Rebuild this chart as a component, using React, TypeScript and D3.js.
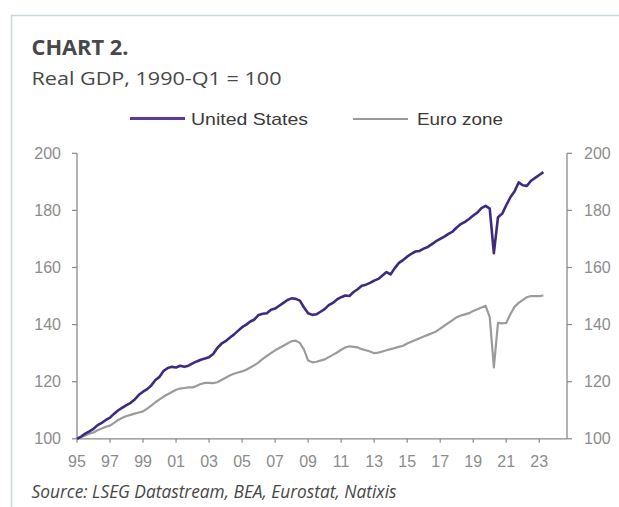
import React from "react";
import * as d3 from "d3";

const startYear = 1995;
// Quarterly real GDP index, 1995-Q1 = 100
const usValues = [
  100, 100.8, 101.8, 102.6,
  103.5, 104.8, 105.6, 106.6,
  107.4, 108.8, 110.0, 110.9,
  111.8, 112.6, 113.8, 115.4,
  116.5, 117.4, 118.7, 120.6,
  121.7, 123.8, 124.8, 125.2,
  125.0, 125.6, 125.2, 125.6,
  126.4, 127.1, 127.7, 128.1,
  128.6, 129.7, 131.8, 133.3,
  134.2, 135.4, 136.5, 137.8,
  139.1, 140.0, 141.1, 141.8,
  143.4, 143.8, 144.0, 145.2,
  145.6, 146.6, 147.6, 148.6,
  149.2, 149.0, 148.4, 146.0,
  144.0, 143.4, 143.6, 144.5,
  145.4, 146.8, 147.6, 148.8,
  149.6, 150.2, 150.0, 151.4,
  152.4, 153.6, 154.0, 154.6,
  155.4, 156.0, 157.2, 158.4,
  157.6, 159.8, 161.6, 162.6,
  163.8, 164.8, 165.6, 165.8,
  166.6, 167.2, 168.2, 169.2,
  170.0, 170.8, 171.8, 172.6,
  174.0, 175.2, 176.0, 177.0,
  178.2, 179.2, 180.8, 181.6,
  180.6, 165.0, 177.6, 178.8,
  181.8, 184.6, 186.6, 189.8,
  188.8, 188.6, 190.4, 191.4,
  192.4, 193.4,
];
const euroValues = [
  100, 100.6, 101.2, 101.8,
  102.2, 103.0, 103.6, 104.2,
  104.6, 105.6, 106.6, 107.4,
  108.0, 108.4, 108.8, 109.2,
  109.6, 110.6, 111.6, 112.8,
  113.8, 114.8, 115.6, 116.4,
  117.2, 117.6, 117.8, 118.0,
  118.0, 118.6, 119.2, 119.6,
  119.6, 119.5, 119.8, 120.6,
  121.4, 122.2, 122.8, 123.2,
  123.6, 124.2, 125.0, 125.8,
  126.8, 128.0, 129.0, 130.0,
  131.0, 131.8, 132.6, 133.4,
  134.2, 134.4, 133.6, 131.2,
  127.4, 126.8, 127.0, 127.4,
  127.8, 128.6, 129.4, 130.2,
  131.2, 132.0, 132.4, 132.2,
  132.0, 131.4, 131.0, 130.6,
  130.0, 130.2, 130.6, 131.0,
  131.4, 131.8, 132.2, 132.6,
  133.4, 134.0, 134.6, 135.2,
  135.8, 136.4, 137.0, 137.6,
  138.6, 139.6, 140.6, 141.6,
  142.6, 143.2, 143.6, 144.0,
  144.8, 145.4, 146.0, 146.6,
  142.6, 125.0, 140.6, 140.4,
  140.6, 143.6, 146.2, 147.6,
  148.6, 149.6, 150.0, 150.0,
  150.0, 150.2,
];
const xTickYears = [1995, 1997, 1999, 2001, 2003, 2005, 2007, 2009, 2011, 2013, 2015, 2017, 2019, 2021, 2023];
const yTicks = [100, 120, 140, 160, 180, 200];
const seriesNames = ["United States", "Euro zone"];

const W = 619;
const H = 507;
const plotLeft = 77;
const plotRight = 567;
const plotTop = 153.3;
const plotBottom = 438.8;

const US_COLOR = "#3f2a80";
const US_LEGEND = "#5e3a96";
const EU_COLOR = "#9b9b9b";
const AXIS = "#8a8a8a";
const LABEL = "#8c8c8c";

export default function App() {
  const x = d3.scaleLinear().domain([1995, 2024.68]).range([plotLeft, plotRight]);
  const y = d3.scaleLinear().domain([100, 200]).range([plotBottom, plotTop]);
  const toPts = (vals: number[]) => vals.map((v, i) => ({ t: startYear + i / 4, v }));
  const line = d3
    .line<{ t: number; v: number }>()
    .x((d) => x(d.t))
    .y((d) => y(d.v))
    .curve(d3.curveLinear);
  const usPath = line(toPts(usValues)) || "";
  const euPath = line(toPts(euroValues)) || "";
  const sansUI = "'Open Sans', 'Noto Sans', sans-serif";
  const arial = "'Liberation Sans', Arial, sans-serif";

  return (
    <svg
      width={W}
      height={H}
      viewBox={`0 0 ${W} ${H}`}
      style={{ position: "absolute", left: 0, top: 0, background: "#fff" }}
    >
      <rect x={0} y={0} width={W} height={H} fill="#ffffff" />
      <rect x={11.5} y={15.5} width={W + 20} height={H + 20} fill="none" stroke="#c6d9de" strokeWidth={1.5} />

      <text x={31.5} y={55} fontFamily={sansUI} fontWeight={700} fontSize={22} fill="#474747" textLength={97} lengthAdjust="spacingAndGlyphs">
        CHART 2.
      </text>
      <text x={31.5} y={85} fontFamily={sansUI} fontSize={19} fill="#474747" textLength={250} lengthAdjust="spacingAndGlyphs">
        Real GDP, 1990-Q1 = 100
      </text>

      {/* Legend */}
      <line x1={130} x2={185} y1={118.5} y2={118.5} stroke={US_LEGEND} strokeWidth={3.2} />
      <text x={191} y={124.5} fontFamily={arial} fontSize={17} fill="#3a3a3a" textLength={117} lengthAdjust="spacingAndGlyphs">
        {seriesNames[0]}
      </text>
      <line x1={353} x2={408} y1={119} y2={119} stroke={EU_COLOR} strokeWidth={2.2} />
      <text x={417} y={124.5} fontFamily={arial} fontSize={17} fill="#3a3a3a" textLength={86} lengthAdjust="spacingAndGlyphs">
        {seriesNames[1]}
      </text>

      {/* Axes */}
      <line x1={plotLeft} x2={plotLeft} y1={plotTop} y2={plotBottom} stroke={AXIS} strokeWidth={1.3} />
      <line x1={plotRight} x2={plotRight} y1={plotTop} y2={plotBottom} stroke={AXIS} strokeWidth={1.3} />
      <line x1={plotLeft} x2={plotRight} y1={plotBottom} y2={plotBottom} stroke={AXIS} strokeWidth={1.3} />

      {yTicks.map((t) => (
        <g key={"y" + t}>
          <line x1={plotLeft - 5} x2={plotLeft} y1={y(t)} y2={y(t)} stroke={AXIS} strokeWidth={1.2} />
          <line x1={plotRight} x2={plotRight + 5} y1={y(t)} y2={y(t)} stroke={AXIS} strokeWidth={1.2} />
          <text x={61} y={y(t) + 5.5} textAnchor="end" fontFamily={arial} fontSize={16} fill={LABEL}>
            {t}
          </text>
          <text x={584} y={y(t) + 5.5} textAnchor="start" fontFamily={arial} fontSize={16} fill={LABEL}>
            {t}
          </text>
        </g>
      ))}

      {xTickYears.map((yr) => (
        <g key={"x" + yr}>
          <line x1={x(yr)} x2={x(yr)} y1={plotBottom} y2={plotBottom + 4} stroke={AXIS} strokeWidth={1.2} />
          <text x={x(yr)} y={466.5} textAnchor="middle" fontFamily={arial} fontSize={16} fill={LABEL}>
            {String(yr % 100).padStart(2, "0")}
          </text>
        </g>
      ))}

      {/* Series */}
      <path d={euPath} fill="none" stroke={EU_COLOR} strokeWidth={2.2} strokeLinejoin="round" />
      <path d={usPath} fill="none" stroke={US_COLOR} strokeWidth={2.6} strokeLinejoin="round" />

      <text x={31.5} y={498} fontFamily={sansUI} fontStyle="italic" fontSize={18} fill="#474747" textLength={365} lengthAdjust="spacingAndGlyphs">
        Source: LSEG Datastream, BEA, Eurostat, Natixis
      </text>
    </svg>
  );
}
